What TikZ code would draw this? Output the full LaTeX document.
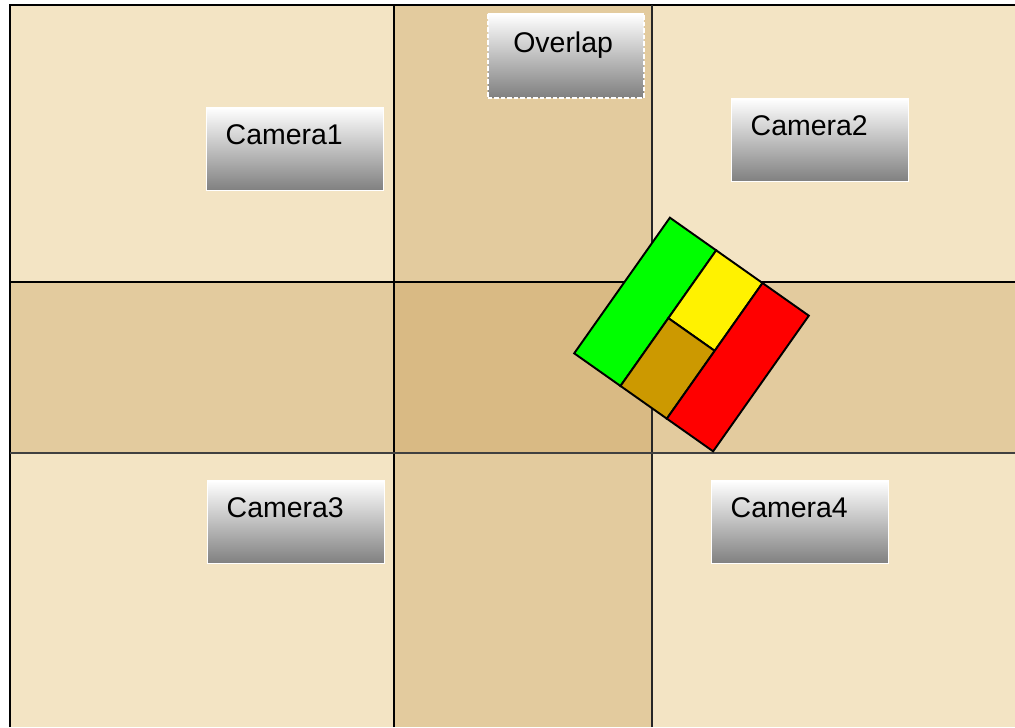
\documentclass[tikz,border=0pt]{standalone}
\usepackage{fontspec}
\setmainfont{Liberation Sans}
\usetikzlibrary{positioning}
\definecolor{PaperBase}{RGB}{243,228,196}
\definecolor{PaperTan}{RGB}{196,152,80}
\definecolor{BodyBrown}{RGB}{204,153,0}

\begin{document}
\begin{tikzpicture}[
  camlabel/.style={anchor=north west,top color=white,bottom color=black!50,
              draw=white,line width=0.8pt,inner xsep=0.38cm,inner ysep=0pt,
              text width=2.78cm,align=left,text height=0.74cm,text depth=0.92cm,
              font=\fontsize{16.2}{19}\selectfont},
  zonelabel/.style={camlabel,dash pattern=on 2.5pt off 1.2pt,line width=0.9pt,
              inner xsep=0.51cm,text width=2.10cm,text height=0.78cm,text depth=0.90cm},
  gridline/.style={line width=1.1pt,black},
  part/.style={draw=black,line width=1.1pt},
]
\useasboundingbox (0,0) rectangle (20.3,14.54);
% floor and camera fields
\fill[PaperBase] (0.2,0) rectangle (20.3,14.44);
\fill[PaperTan,opacity=0.32] (7.88,0) rectangle (13.04,14.44);
\fill[PaperTan,opacity=0.32] (0.2,5.48) rectangle (20.3,8.9);
\draw[gridline] (0.2,0) -- (0.2,14.44) -- (20.3,14.44);
\draw[gridline] (7.88,0) -- (7.88,14.44);
\draw[gridline,line width=0.6pt,black!85] (13.04,0) -- (13.04,14.44);
\draw[gridline] (0.2,8.9) -- (20.3,8.9);
\draw[gridline,line width=0.8pt,black!75] (0.2,5.48) -- (20.3,5.48);
% labels
\node[camlabel] (cam1) at (4.12,12.40) {Camera1};
\node[camlabel] (cam2) at (14.62,12.58) {Camera2};
\node[camlabel] (cam3) at (4.14,4.94) {Camera3};
\node[camlabel] (cam4) at (14.22,4.94) {Camera4};
\node[zonelabel] (overlap) at (9.74,14.28) {Overlap};
% robot
\begin{scope}[shift={(13.83,7.85)},rotate=-35.2]
  \filldraw[part,fill=green] (-1.70,-1.66) rectangle (-0.567,1.66);
  \filldraw[part,fill=yellow] (-0.567,0) rectangle (0.567,1.66);
  \filldraw[part,fill=BodyBrown] (-0.567,-1.66) rectangle (0.567,0);
  \filldraw[part,fill=red] (0.567,-1.66) rectangle (1.70,1.66);
\end{scope}
\end{tikzpicture}
\end{document}
